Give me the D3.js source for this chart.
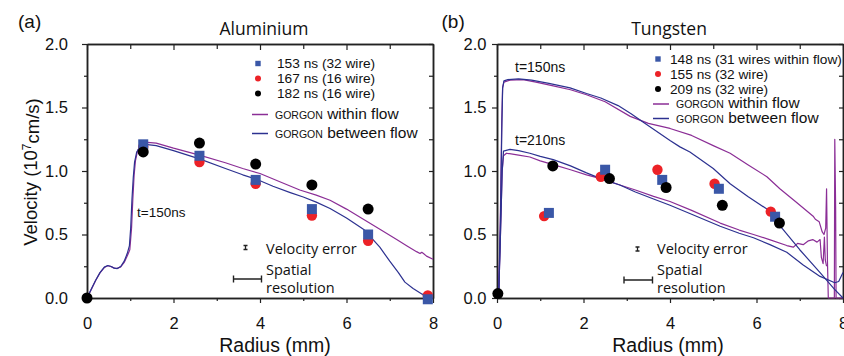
<!DOCTYPE html>
<html>
<head>
<meta charset="utf-8">
<script src="https://cdn.jsdelivr.net/npm/d3@7/dist/d3.min.js"></script>
<style>
  body { margin: 0; background: #fff; }
  svg text { font-family: "Liberation Sans", Arial, sans-serif; fill: #111; }
  .myriad { font-family: "Open Sans", sans-serif; }
  .axis .domain { stroke: #222; stroke-width: 1.5; }
  .axis line { stroke: #222; stroke-width: 1.2; }
  .curve { fill: none; stroke-width: 1.2; stroke-linejoin: round; }
</style>
</head>
<body>
<svg width="844" height="356"></svg>
<script>
// ---- data (radius mm, velocity 10^7 cm/s) ----
var xMajor = [0, 2, 4, 6, 8], xMinor = [1, 3, 5, 7];
var yMajor = [0, 0.5, 1, 1.5, 2], yMinor = [0.25, 0.75, 1.25, 1.75];

// aluminium markers
var al153 = [[1.3,1.21],[2.6,1.12],[3.9,0.93],[5.2,0.70],[6.5,0.50],[7.88,-0.01]];
var al167 = [[1.3,1.19],[2.6,1.07],[3.9,0.90],[5.2,0.65],[6.5,0.45],[7.88,0.02]];
var al182 = [[0,0],[1.3,1.15],[2.6,1.22],[3.9,1.055],[5.2,0.89],[6.5,0.70]];

// aluminium GORGON curves
var alWithin = [[0,0],[0.1,0.068],[0.2,0.138],[0.3,0.198],[0.4,0.24],[0.48,0.254],[0.56,0.247],[0.63,0.235],[0.7,0.233],[0.78,0.245],[0.86,0.28],[0.93,0.33],[0.99,0.38],[1.03,0.55],[1.06,0.78],[1.09,0.97],[1.12,1.08],[1.17,1.16],[1.25,1.2],[1.4,1.225],[1.6,1.22],[2.0,1.18],[2.6,1.125],[3.2,1.065],[3.6,1.02],[4.0,0.98],[4.5,0.91],[4.92,0.85],[5.3,0.81],[5.62,0.77],[6.0,0.7],[6.39,0.62],[6.8,0.535],[7.16,0.46],[7.4,0.41],[7.62,0.365],[7.7,0.35],[7.74,0.36],[7.78,0.35],[7.85,0.33],[8.0,0.305]];
var alBetween = [[0,0],[0.1,0.07],[0.2,0.14],[0.3,0.2],[0.4,0.243],[0.48,0.256],[0.56,0.248],[0.63,0.235],[0.7,0.232],[0.78,0.248],[0.86,0.29],[0.93,0.35],[0.98,0.41],[1.01,0.55],[1.04,0.78],[1.07,0.95],[1.1,1.07],[1.15,1.15],[1.22,1.19],[1.35,1.21],[1.6,1.2],[2.0,1.16],[2.6,1.095],[3.2,1.02],[3.6,0.97],[3.92,0.935],[4.3,0.88],[4.7,0.83],[5.0,0.795],[5.3,0.755],[5.62,0.705],[6.0,0.63],[6.4,0.54],[6.77,0.4],[7.0,0.29],[7.2,0.2],[7.35,0.125],[7.54,0.075],[7.75,0.03],[7.93,0.01],[8.0,0.0]];

// tungsten markers
var w148 = [[1.2,0.67],[2.5,1.01],[3.82,0.93],[5.13,0.86],[6.43,0.64]];
var w155 = [[1.09,0.645],[2.4,0.955],[3.71,1.01],[5.03,0.90],[6.33,0.68]];
var w209 = [[0.02,0.035],[1.29,1.04],[2.6,0.94],[3.91,0.87],[5.21,0.73],[6.53,0.59]];

// tungsten GORGON curves, t=150ns and t=210ns
var wWithin150 = [[0,0],[0.04,0.03],[0.08,0.7],[0.11,1.4],[0.13,1.66],[0.16,1.7],[0.3,1.715],[0.6,1.72],[0.9,1.7],[1.3,1.67],[1.7,1.64],[2.07,1.6],[2.5,1.545],[3.08,1.43],[3.5,1.375],[4.0,1.335],[4.5,1.28],[5.0,1.2],[5.39,1.14],[5.8,1.05],[6.24,0.955],[6.54,0.86],[6.9,0.76],[7.31,0.644],[7.36,0.62],[7.45,0.6],[7.52,0.52],[7.56,0.5],[7.6,0.55],[7.62,0.86],[7.64,0.3],[7.66,0.0],[7.8,0.0],[7.81,1.25],[7.83,0.7],[7.84,0.0],[8.0,0.0]];
var wBetween150 = [[0,0],[0.04,0.03],[0.08,0.6],[0.11,1.3],[0.13,1.65],[0.16,1.71],[0.25,1.72],[0.5,1.725],[0.8,1.715],[1.2,1.69],[1.69,1.655],[2.07,1.61],[2.4,1.575],[2.8,1.515],[3.1,1.45],[3.4,1.38],[4.0,1.24],[4.23,1.19],[4.46,1.15],[5.0,1.02],[5.39,0.9],[5.8,0.8],[6.24,0.7],[6.54,0.57],[7.0,0.38],[7.47,0.2],[7.8,0.07],[8.0,0.0]];
var wWithin210 = [[0,0],[0.04,0.03],[0.08,0.5],[0.12,1.0],[0.15,1.12],[0.22,1.14],[0.5,1.125],[0.76,1.11],[1.0,1.08],[1.3,1.05],[1.7,1.01],[2.07,0.97],[2.4,0.94],[2.84,0.89],[3.2,0.85],[3.62,0.8],[4.0,0.76],[4.5,0.69],[5.16,0.59],[5.6,0.535],[5.93,0.5],[6.3,0.46],[6.7,0.413],[6.85,0.4],[6.95,0.43],[7.08,0.42],[7.2,0.45],[7.3,0.46],[7.4,0.44],[7.47,0.46],[7.5,0.32],[7.54,0.27],[7.57,0.48],[7.59,0.3],[7.62,0.25]];
var wBetween210 = [[0,0],[0.04,0.03],[0.08,0.5],[0.12,1.0],[0.15,1.156],[0.3,1.17],[0.5,1.16],[0.76,1.14],[1.0,1.115],[1.3,1.09],[1.7,1.04],[2.07,0.985],[2.4,0.94],[2.84,0.89],[3.2,0.835],[3.62,0.78],[4.0,0.73],[4.5,0.66],[5.16,0.565],[5.6,0.51],[5.93,0.474],[6.31,0.42],[6.7,0.36],[7.08,0.26],[7.47,0.17],[7.81,0.12],[7.9,0.13],[8.0,0.2]];

var alLegend = ["153 ns (32 wire)", "167 ns (16 wire)", "182 ns (16 wire)"];
var wLegend = ["148 ns (31 wires within flow)", "155 ns (32 wire)", "209 ns (32 wire)"];

var cBlue = "#3a57a7", cRed = "#ec2227", cBlack = "#000",
    cWithin = "#8b2e96", cBetween = "#2c3190";

var svg = d3.select("svg");

function drawPanel(p) {
  var x = d3.scaleLinear().domain([0, 8]).range([p.x0, p.x1]);
  var y = d3.scaleLinear().domain([0, 2]).range([298, 44]);
  var g = svg.append("g");

  function ax(axis, tr, vals, size, pad, labels) {
    var a = axis.tickValues(vals).tickSize(size).tickSizeOuter(0).tickPadding(pad);
    if (!labels) a.tickFormat("");
    var s = g.append("g").attr("class", "axis").attr("transform", tr).call(a);
    s.selectAll("text").style("font-size", "16.5px").style("font-family", '"Liberation Sans", Arial, sans-serif').attr("fill", "#111");
    return s;
  }
  // bottom & left: outward ticks with labels
  ax(d3.axisBottom(x), "translate(0,298)", xMajor, 5, 14, true).selectAll("text").attr("dy", "0.71em");
  ax(d3.axisBottom(x), "translate(0,298)", xMinor, 3, 0, false);
  ax(d3.axisLeft(y).tickFormat(d3.format(".1f")), "translate(" + p.x0 + ",0)", yMajor, 5, p.ypad, true);
  ax(d3.axisLeft(y), "translate(" + p.x0 + ",0)", yMinor, 3, 0, false);
  // top & right: inward ticks
  ax(d3.axisTop(x), "translate(0,44)", xMajor, -6, 0, false);
  ax(d3.axisTop(x), "translate(0,44)", xMinor, -5, 0, false);
  ax(d3.axisRight(y), "translate(" + p.x1 + ",0)", yMajor, -4, 0, false);
  ax(d3.axisRight(y), "translate(" + p.x1 + ",0)", yMinor, -4, 0, false);

  var line = d3.line().x(function(d) { return x(d[0]); }).y(function(d) { return y(d[1]); });
  p.curves.forEach(function(c) {
    g.append("path").datum(c.data).attr("class", "curve").attr("stroke", c.color).attr("d", line);
  });

  // markers: red, blue squares, black
  g.selectAll(".red").data(p.red).enter().append("circle")
    .attr("cx", function(d) { return x(d[0]); }).attr("cy", function(d) { return y(d[1]); })
    .attr("r", 5.2).attr("fill", cRed);
  g.selectAll(".sq").data(p.blue).enter().append("rect")
    .attr("x", function(d) { return x(d[0]) - 5; }).attr("y", function(d) { return y(d[1]) - 5; })
    .attr("width", 10).attr("height", 10).attr("fill", cBlue);
  g.selectAll(".blk").data(p.black).enter().append("circle")
    .attr("cx", function(d) { return x(d[0]); }).attr("cy", function(d) { return y(d[1]); })
    .attr("r", 5.5).attr("fill", cBlack);

  // legend
  var L = p.legend;
  L.labels.forEach(function(t, i) {
    var by = L.y0 + i * 15;
    if (i === 0) g.append("rect").attr("x", L.mx - 2.7).attr("y", by - 4.5 - 2.7).attr("width", 5.4).attr("height", 5.4).attr("fill", cBlue);
    else g.append("circle").attr("cx", L.mx).attr("cy", by - 4.5).attr("r", 3).attr("fill", i === 1 ? cRed : cBlack);
    g.append("text").attr("x", L.tx).attr("y", by).style("font-size", "13.7px").text(t);
  });
  [["within flow", cWithin], ["between flow", cBetween]].forEach(function(e, i) {
    var by = L.ly0 + i * L.lstep;
    g.append("line").attr("x1", L.lx).attr("x2", L.lx + 16).attr("y1", by - 4).attr("y2", by - 4)
      .attr("stroke", e[1]).attr("stroke-width", 1.5);
    var t = g.append("text").attr("x", L.lx + 23).attr("y", by);
    t.append("tspan").style("font-size", "10.5px").text("GORGON");
    t.append("tspan").style("font-size", "15.5px").text(" " + e[0]);
  });

  // error & resolution key
  var K = p.key;
  g.append("path").attr("d", "M" + (K.ex - 2) + "," + (K.ey - 2) + "h4M" + K.ex + "," + (K.ey - 2) + "v4M" + (K.ex - 2) + "," + (K.ey + 2) + "h4")
    .attr("stroke", "#222").attr("stroke-width", 1.3).attr("fill", "none");
  g.append("path").attr("d", "M" + K.rx0 + "," + K.ry + "H" + K.rx1 + "M" + K.rx0 + "," + (K.ry - 3.5) + "v7M" + K.rx1 + "," + (K.ry - 3.5) + "v7")
    .attr("stroke", "#222").attr("stroke-width", 1.4).attr("fill", "none");
  g.append("text").attr("class", "myriad").attr("x", K.tx).attr("y", 254).style("font-size", "14.5px").text("Velocity error");
  g.append("text").attr("class", "myriad").attr("x", K.tx).attr("y", 274.5).style("font-size", "14.5px").text("Spatial");
  g.append("text").attr("class", "myriad").attr("x", K.tx).attr("y", 293).style("font-size", "14.5px").text("resolution");

  // titles
  svg.append("text").attr("x", p.lx).attr("y", 27.5).style("font-size", "19px").text(p.letter);
  svg.append("text").attr("class", "myriad").attr("x", p.tcx).attr("y", 35).attr("text-anchor", "middle")
    .style("font-size", "17.5px").text(p.title);
  svg.append("text").attr("x", p.xlx).attr("y", 351.5).attr("text-anchor", "middle")
    .style("font-size", "19.5px").text("Radius (mm)");
  p.notes.forEach(function(n) {
    svg.append("text").attr("x", n[0]).attr("y", n[1]).style("font-size", n[3]).text(n[2]);
  });
}

drawPanel({
  x0: 87, x1: 433, ypad: 14, letter: "(a)", lx: 18, title: "Aluminium", tcx: 264, xlx: 275,
  curves: [{ data: alWithin, color: cWithin }, { data: alBetween, color: cBetween }],
  red: al167, blue: al153, black: al182,
  legend: { labels: alLegend, mx: 258, tx: 277, y0: 68, lx: 252, ly0: 118.5, lstep: 19 },
  key: { ex: 245.5, ey: 247.5, rx0: 233.5, rx1: 261.5, ry: 279, tx: 266 },
  notes: [[137, 216.5, "t=150ns", "13.5px"]]
});

drawPanel({
  x0: 497, x1: 843, ypad: 5.5, letter: "(b)", lx: 441.5, title: "Tungsten", tcx: 669, xlx: 668,
  curves: [{ data: wWithin150, color: cWithin }, { data: wWithin210, color: cWithin },
           { data: wBetween150, color: cBetween }, { data: wBetween210, color: cBetween }],
  red: w155, blue: w148, black: w209,
  legend: { labels: wLegend, mx: 658, tx: 670, y0: 63.5, lx: 653, ly0: 108, lstep: 14.5 },
  key: { ex: 637.5, ey: 249, rx0: 624, rx1: 652.5, ry: 280, tx: 657 },
  notes: [[515, 71.5, "t=150ns", "14px"], [515, 144.5, "t=210ns", "14px"]]
});

// y axis title
var yl = svg.append("text").attr("transform", "translate(36.5,172) rotate(-90)")
  .attr("text-anchor", "middle").style("font-size", "18.5px");
yl.append("tspan").text("Velocity (10");
yl.append("tspan").attr("dy", "-0.45em").style("font-size", "12px").text("7");
yl.append("tspan").attr("dy", "0.45em").text("cm/s)");
</script>
</body>
</html>
